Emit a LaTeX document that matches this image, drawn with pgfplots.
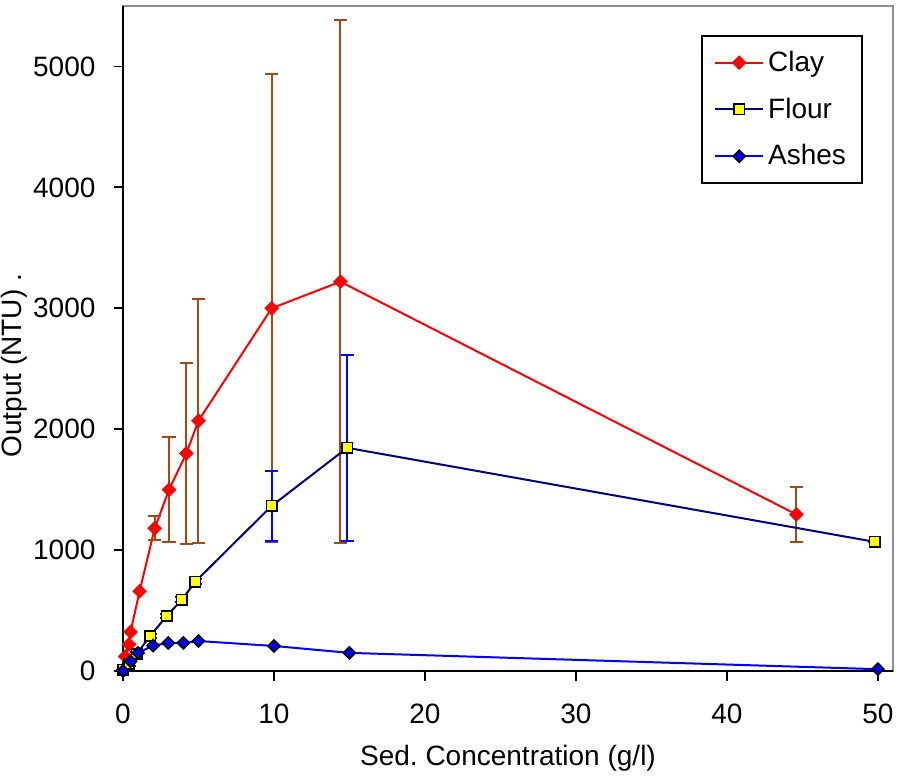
\documentclass[border=0pt]{standalone}
\usepackage{pgfplots}
\pgfplotsset{compat=1.18}
\usepackage{fontspec}
\setmainfont{Liberation Sans}
\definecolor{brownbar}{RGB}{170,70,20}
\definecolor{navyline}{RGB}{0,0,128}
\definecolor{ashblue}{RGB}{0,0,255}
\definecolor{flouryellow}{RGB}{255,255,0}
\pgfdeclareplotmark{xdiamond}{%
  \pgfpathmoveto{\pgfqpoint{0pt}{\pgfplotmarksize}}%
  \pgfpathlineto{\pgfqpoint{\pgfplotmarksize}{0pt}}%
  \pgfpathlineto{\pgfqpoint{0pt}{-\pgfplotmarksize}}%
  \pgfpathlineto{\pgfqpoint{-\pgfplotmarksize}{0pt}}%
  \pgfpathclose\pgfusepathqfillstroke}
\begin{document}
\begin{tikzpicture}
\useasboundingbox (0,0) rectangle (452pt,389pt);
\begin{axis}[
  at={(61.5pt,53.5pt)}, anchor=south west,
  scale only axis, width=385pt, height=332.5pt,
  xmin=0, xmax=51, ymin=0, ymax=5500,
  xtick={0,10,20,30,40,50}, ytick={0,1000,2000,3000,4000,5000},
  tick align=outside, xtick pos=bottom, ytick pos=left,
  major tick length=4.75pt,
  every tick/.style={black, line width=0.9pt},
  axis line style={draw=black!45, line width=1pt},
  font=\fontsize{14}{16.8}\selectfont,
  /pgf/number format/assume math mode=true,
  scaled y ticks=false,
  y tick label style={/pgf/number format/1000 sep={}, xshift=-5.5pt},
  x tick label style={yshift=-8pt},
  xlabel={Sed.\ Concentration (g/l)},
  ylabel={Output (NTU) .},
  xlabel style={at={(axis description cs:0.5,-0.131)}, anchor=center},
  ylabel style={at={(axis description cs:-0.1416,0.459)}, anchor=center, rotate=0},
  clip=false,
  legend cell align=left,
  legend style={at={(rel axis cs:1,1)}, anchor=north east, xshift=-15pt, yshift=-14.5pt,
    draw=black, line width=1pt, inner xsep=6pt, inner ysep=5.5pt, row sep=7.75pt,
    font=\fontsize{14}{16.8}\selectfont},
  legend image code/.code={\draw[mark repeat=2,mark phase=2,#1] plot coordinates {(0pt,0pt) (12pt,0pt) (24pt,0pt)};},
]
\draw[black, line width=1.3pt] (rel axis cs:0,1) -- (rel axis cs:0,0) -- (rel axis cs:1,0);

% Clay
\addplot[red, line width=1pt, mark=xdiamond, mark size=3.3pt,
  mark options={fill=red, draw=red, line width=0.5pt},
  error bars/.cd, y dir=both, y explicit,
  error bar style={brownbar, line width=1pt},
  error mark options={brownbar, rotate=90, mark size=3.3pt, line width=1pt}]
  table[x=x, y=y, y error=e] {
x y e
0.15 120 0
0.4 220 0
0.5 323 0
1.1 660 0
2.1 1180 100
3.05 1500 432
4.2 1800 750
5.0 2070 1010
9.85 3000 1935
14.4 3220 2165
44.6 1295 225
};
\addlegendentry{Clay}

% Flour
\addplot[navyline, line width=1pt, mark=square*, mark size=2.6pt,
  mark options={fill=flouryellow, draw=black, line width=0.8pt},
  error bars/.cd, y dir=both, y explicit,
  error bar style={ashblue, line width=1pt},
  error mark options={ashblue, rotate=90, mark size=3.3pt, line width=1pt}]
  table[x=x, y=y, y error=e] {
x y e
0 10 0
0.4 60 15
0.9 140 15
1.8 290 15
2.9 455 15
3.9 590 20
4.8 740 20
9.85 1366 290
14.85 1846 770
49.8 1068 0
};
\addlegendentry{Flour}

% Ashes
\addplot[ashblue, line width=1pt, mark=xdiamond, mark size=3pt,
  mark options={fill=ashblue, draw=black, line width=0.8pt}]
  table[x=x, y=y] {
x y
0 0
0.5 80
1 150
2 210
3 232
4 232
5 248
10 207
15 150
50 15
};
\addlegendentry{Ashes}
\end{axis}
\end{tikzpicture}
\end{document}
